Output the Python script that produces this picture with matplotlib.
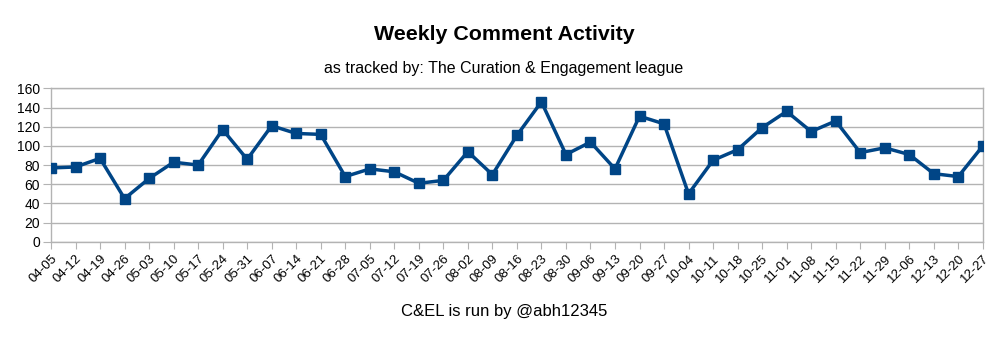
import matplotlib.pyplot as plt

plt.rcParams['font.family'] = ['Liberation Sans', 'DejaVu Sans']

# Week labels (MM-DD)
weeks = ["04-05", "04-12", "04-19", "04-26", "05-03", "05-10", "05-17", "05-24",
         "05-31", "06-07", "06-14", "06-21", "06-28", "07-05", "07-12", "07-19",
         "07-26", "08-02", "08-09", "08-16", "08-23", "08-30", "09-06", "09-13",
         "09-20", "09-27", "10-04", "10-11", "10-18", "10-25", "11-01", "11-08",
         "11-15", "11-22", "11-29", "12-06", "12-13", "12-20", "12-27"]

# Comments per week
comments = [77, 78, 87, 45, 66, 83, 80, 117, 86, 121, 113, 112, 68, 76, 73, 61,
            64, 94, 70, 111, 146, 91, 104, 76, 131, 123, 50, 85, 96, 119, 136, 115,
            126, 93, 98, 91, 71, 68, 100]

y_ticks = list(range(0, 161, 20))

line_color = "#004586"
grid_color = "#b3b3b3"

fig = plt.figure(figsize=(10.08, 3.4), dpi=100)
ax = fig.add_axes([0.0506, 0.289, 0.9244, 0.451])

x = list(range(len(weeks)))
ax.plot(x, comments, color=line_color, linewidth=2.5, marker="s",
        markersize=7.5, zorder=3)

ax.set_xlim(0, len(weeks) - 1)
ax.set_ylim(0, 160)
ax.set_yticks(y_ticks)
ax.set_xticks(x)
ax.set_xticklabels(weeks, rotation=45, ha="right", rotation_mode="anchor", fontsize=9.5)
ax.tick_params(axis="y", labelsize=10, length=6, color=grid_color, pad=2)
ax.tick_params(axis="x", length=5, color=grid_color, pad=3)

ax.grid(axis="y", color=grid_color, linewidth=1, zorder=0)
for s in ax.spines.values():
  s.set_color(grid_color)
  s.set_linewidth(1)

# Title, subtitle and footer
fig.text(0.5, 0.9, "Weekly Comment Activity", ha="center", va="center",
         fontsize=15.4, fontweight="bold")
fig.text(0.5, 0.8, "as tracked by: The Curation & Engagement league", ha="center",
         va="center", fontsize=11.5)
fig.text(0.5, 0.085, "C&EL is run by @abh12345", ha="center", va="center", fontsize=12)

fig.savefig("out.png", dpi=100)
